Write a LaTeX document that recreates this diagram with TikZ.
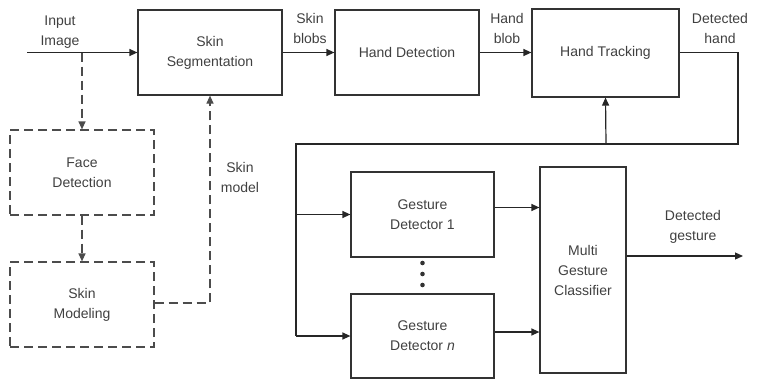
\documentclass[tikz,border=0pt]{standalone}
\usepackage{fontspec}
\setmainfont{Liberation Sans}
\usetikzlibrary{arrows.meta}
\tikzset{
	>={Triangle[length=8pt,width=7pt]},
	block/.style={draw=black!80,line width=1.2pt,text=black!75,align=center,minimum width=144pt,minimum height=85pt,inner sep=0pt},
	dblock/.style={block,draw=black!70,dash pattern=on 9pt off 5pt},
	lbl/.style={text=black!75,align=center},
	conn/.style={draw=black!85,line width=1.2pt},
	dconn/.style={conn,draw=black!70,dash pattern=on 9pt off 5pt}
}
\begin{document}
\begin{tikzpicture}[x=1pt,y=-1pt,font=\fontsize{14}{20}\selectfont]
	\useasboundingbox (0,0) rectangle (757,380);
	\node[block] (seg) at (210,52.5) {Skin\\Segmentation};
	\node[block] (hdet) at (407,52.5) {Hand Detection};
	\node[block,minimum width=147pt,minimum height=88pt] (htrack) at (605.5,53) {Hand Tracking};
	\node[dblock] (face) at (82,172.5) {Face\\Detection};
	\node[dblock] (skinmod) at (82,304.5) {Skin\\Modeling};
	\node[block,minimum width=143pt] (gdone) at (422.5,214.5) {Gesture\\Detector 1};
	\node[block,minimum width=143pt,minimum height=84pt] (gdn) at (422.5,336) {Gesture\\Detector \textit{n}};
	\node[block,minimum width=86pt,minimum height=206pt] (mgc) at (583,270) {Multi\\Gesture\\Classifier};
	\coordinate (in) at (27,52.5);
	\coordinate (split) at (82,52.5);
	\coordinate (out) at (743,256);
	\coordinate (loopr) at (738,144);
	\coordinate (loopl) at (296,144);
	\coordinate (fb) at (606,144);
	\coordinate (sm) at (210,303);
	\draw[conn,->] (in) -- (seg.west);
	\node[lbl] at (60,32) {Input\\Image};
	\draw[conn,->] (seg.east) -- (hdet.west);
	\node[lbl] at (310,28) {Skin\\blobs};
	\draw[conn,->] (hdet.east) -- (htrack.west |- hdet.east);
	\node[lbl] at (507,28) {Hand\\blob};
	\draw[conn] (htrack.east |- seg.east) -- (loopr |- seg.east) -- (loopr) -- (loopl) -- (loopl |- gdn.west);
	\node[lbl] at (720,28) {Detected\\hand};
	\draw[conn,->] (loopl |- gdn.west) -- (gdn.west);
	\draw[conn,->] (loopl |- gdone.west) -- (gdone.west);
	\draw[conn,->] (fb) -- (htrack.south);
	\draw[conn,->] ([yshift=7pt]gdone.east) -- ([yshift=7pt]gdone.east -| mgc.west);
	\draw[conn,->] ([yshift=4pt]gdn.east) -- ([yshift=4pt]gdn.east -| mgc.west);
	\draw[conn,->] (mgc.east |- out) -- (out);
	\node[lbl] at (693,227) {Detected\\gesture};
	\draw[dconn,->] (split) -- (face.north);
	\draw[dconn,->] (face.south) -- (skinmod.north);
	\draw[dconn,->] (skinmod.east |- sm) -- (sm) -- (seg.south);
	\node[lbl] at (240,177) {Skin\\model};
	\foreach \y in {263,274,285}
		\fill[black!80] (422.5,\y) circle (2.3pt);
\end{tikzpicture}
\end{document}
